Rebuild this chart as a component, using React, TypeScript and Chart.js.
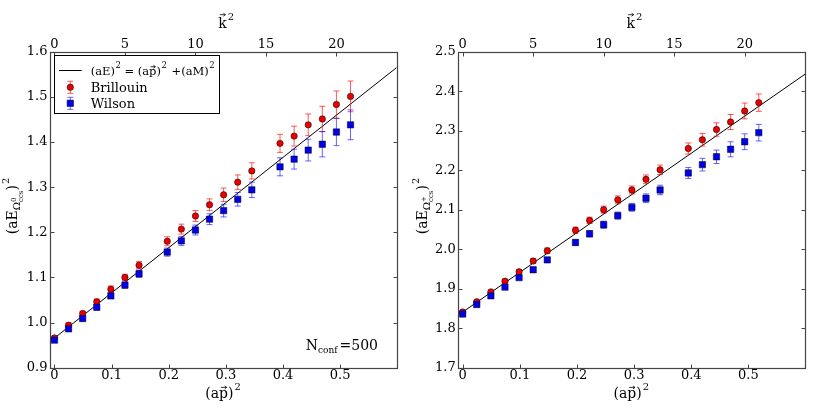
import React, { useEffect, useRef } from "react";
import { Chart, registerables } from "chart.js";

Chart.register(...registerables);

// (a p)^2 per unit of k^2, lattice L = 40
const K_UNIT = Math.pow((2 * Math.PI) / 40, 2);

const kSq = [0, 1, 2, 3, 4, 5, 6, 8, 9, 10, 11, 12, 13, 14, 16, 17, 18, 19, 20, 21];

// Left panel: Omega_ccs^0
const leftBrillouin = [0.966, 0.994, 1.02, 1.046, 1.074, 1.1, 1.127, 1.18, 1.207, 1.236, 1.261, 1.283, 1.311, 1.336, 1.397, 1.413, 1.438, 1.451, 1.483, 1.501];
const leftBrillouinErr = [0.004, 0.005, 0.005, 0.006, 0.007, 0.007, 0.008, 0.01, 0.011, 0.012, 0.013, 0.015, 0.016, 0.018, 0.02, 0.022, 0.024, 0.028, 0.03, 0.034];
const leftWilson = [0.961, 0.986, 1.009, 1.034, 1.059, 1.083, 1.108, 1.156, 1.181, 1.205, 1.229, 1.248, 1.273, 1.294, 1.345, 1.362, 1.382, 1.395, 1.422, 1.438];
const leftWilsonErr = [0.004, 0.005, 0.005, 0.006, 0.006, 0.007, 0.008, 0.009, 0.01, 0.011, 0.012, 0.014, 0.015, 0.017, 0.02, 0.022, 0.024, 0.028, 0.03, 0.033];
const leftFit = [[-0.0087, 0.957], [0.599, 1.565]];

// Right panel: Omega_ccs^+
const rightBrillouin = [1.841, 1.867, 1.892, 1.919, 1.943, 1.97, 1.996, 2.048, 2.073, 2.1, 2.125, 2.15, 2.177, 2.201, 2.255, 2.277, 2.303, 2.322, 2.35, 2.371];
const rightBrillouinErr = [0.003, 0.003, 0.004, 0.004, 0.005, 0.006, 0.007, 0.008, 0.008, 0.009, 0.01, 0.01, 0.011, 0.012, 0.014, 0.016, 0.017, 0.019, 0.02, 0.022];
const rightWilson = [1.836, 1.86, 1.882, 1.904, 1.928, 1.948, 1.973, 2.017, 2.039, 2.062, 2.085, 2.106, 2.129, 2.15, 2.193, 2.214, 2.234, 2.253, 2.272, 2.295];
const rightWilsonErr = [0.003, 0.003, 0.004, 0.004, 0.005, 0.006, 0.006, 0.007, 0.008, 0.009, 0.009, 0.01, 0.011, 0.012, 0.014, 0.016, 0.017, 0.019, 0.02, 0.021];
const rightFit = [[-0.0088, 1.832], [0.599, 2.443]];

const xTicks = [0, 0.1, 0.2, 0.3, 0.4, 0.5];
const kTicks = [0, 5, 10, 15, 20];
const leftYTicks = [0.9, 1.0, 1.1, 1.2, 1.3, 1.4, 1.5, 1.6];
const rightYTicks = [1.7, 1.8, 1.9, 2.0, 2.1, 2.2, 2.3, 2.4, 2.5];

const X_MIN = -0.0087;
const X_MAX = 0.599;

const FONT = '"DejaVu Serif", serif';
const RED = "rgb(235,0,0)";
const BLUE = "rgb(0,0,235)";
const RED_ERR = "rgba(255,0,0,0.65)";
const BLUE_ERR = "rgba(0,0,255,0.6)";
const FRAME = "#444";

Chart.defaults.font.family = FONT;

type Piece = { t: string; size: number; dy?: number; dx?: number; arrow?: number; noAdvance?: boolean };

function pieceWidth(ctx: CanvasRenderingContext2D, p: Piece) {
  ctx.font = `${p.size}px ${FONT}`;
  return ctx.measureText(p.t).width;
}

function richWidth(ctx: CanvasRenderingContext2D, pieces: Piece[]) {
  let w = 0;
  for (const p of pieces) {
    if (!p.noAdvance) w += pieceWidth(ctx, p) + (p.dx || 0);
  }
  return w;
}

function drawRich(ctx: CanvasRenderingContext2D, pieces: Piece[], x: number, y: number) {
  let cx = x;
  ctx.textAlign = "left";
  ctx.textBaseline = "alphabetic";
  for (const p of pieces) {
    const w = pieceWidth(ctx, p);
    ctx.font = `${p.size}px ${FONT}`;
    const px = cx + (p.dx || 0);
    const py = y + (p.dy || 0);
    ctx.fillText(p.t, px, py);
    if (p.arrow) {
      const ya = py - p.size * p.arrow;
      const xs = px + w * 0.2;
      const xe = px + w * 0.85;
      ctx.save();
      ctx.lineWidth = 0.8;
      ctx.strokeStyle = "#000";
      ctx.beginPath();
      ctx.moveTo(xs, ya);
      ctx.lineTo(xe, ya);
      ctx.moveTo(xe - 2, ya - 1.5);
      ctx.lineTo(xe, ya);
      ctx.lineTo(xe - 2, ya + 1.5);
      ctx.stroke();
      ctx.restore();
    }
    if (!p.noAdvance) cx += w + (p.dx || 0);
  }
}

type PanelCfg = {
  id: string;
  left: number;
  width: number;
  yAxisWidth: number;
  rightPad: number;
  yMin: number;
  yMax: number;
  yTicks: number[];
  brill: number[];
  brillErr: number[];
  wils: number[];
  wilsErr: number[];
  fit: number[][];
  supChar: string;
  showLegend: boolean;
};

const PLOT_TOP = 51.7;
const BOTTOM_H = 409 - 367.7;

function makePlugin(cfg: PanelCfg) {
  return {
    id: "custom_" + cfg.id,
    beforeDatasetDraw(chart: any, args: any) {
      const ds = chart.data.datasets[args.index];
      if (!ds.errs) return;
      const ctx = chart.ctx as CanvasRenderingContext2D;
      const ys = chart.scales.y;
      const a = chart.chartArea;
      ctx.save();
      ctx.beginPath();
      ctx.rect(a.left, a.top, a.right - a.left, a.bottom - a.top);
      ctx.clip();
      ctx.strokeStyle = ds.errColor;
      ctx.lineWidth = 1;
      args.meta.data.forEach((el: any, i: number) => {
        const x = el.x;
        const v = ds.data[i].y;
        const e = ds.errs[i];
        const y1 = ys.getPixelForValue(v + e);
        const y2 = ys.getPixelForValue(v - e);
        ctx.beginPath();
        ctx.moveTo(x, y1);
        ctx.lineTo(x, y2);
        ctx.moveTo(x - 3, y1);
        ctx.lineTo(x + 3, y1);
        ctx.moveTo(x - 3, y2);
        ctx.lineTo(x + 3, y2);
        ctx.stroke();
      });
      ctx.restore();
    },
    afterDraw(chart: any) {
      const ctx = chart.ctx as CanvasRenderingContext2D;
      const a = chart.chartArea;
      const L = Math.round(a.left) + 0.5;
      const R = Math.round(a.right) + 0.5;
      const T = Math.round(a.top) + 0.5;
      const B = Math.round(a.bottom) + 0.5;
      ctx.save();
      // frame
      ctx.strokeStyle = FRAME;
      ctx.lineWidth = 1.2;
      ctx.strokeRect(L, T, R - L, B - T);
      // inner ticks
      ctx.lineWidth = 1;
      ctx.beginPath();
      const xs = chart.scales.x;
      const x2 = chart.scales.x2;
      const ys = chart.scales.y;
      for (const v of xTicks) {
        const px = Math.round(xs.getPixelForValue(v)) + 0.5;
        ctx.moveTo(px, B);
        ctx.lineTo(px, B - 4);
      }
      for (const v of kTicks) {
        const px = Math.round(x2.getPixelForValue(v)) + 0.5;
        ctx.moveTo(px, T);
        ctx.lineTo(px, T + 4);
      }
      for (const v of cfg.yTicks) {
        const py = Math.round(ys.getPixelForValue(v)) + 0.5;
        ctx.moveTo(L, py);
        ctx.lineTo(L + 4, py);
        ctx.moveTo(R, py);
        ctx.lineTo(R - 4, py);
      }
      ctx.stroke();

      ctx.fillStyle = "#000";
      const cx = (a.left + a.right) / 2;
      // top title k^2
      const kPieces: Piece[] = [
        { t: "k", size: 14, arrow: 0.95 },
        { t: "2", size: 10, dy: -8, dx: 1 },
      ];
      drawRich(ctx, kPieces, cx + 3 - richWidth(ctx, kPieces) / 2, 28);
      // bottom title (ap)^2
      const pPieces: Piece[] = [
        { t: "(a", size: 14 },
        { t: "p", size: 14, arrow: 0.72 },
        { t: ")", size: 14 },
        { t: "2", size: 10, dy: -8, dx: 1 },
      ];
      drawRich(ctx, pPieces, cx - richWidth(ctx, pPieces) / 2, 397.5);
      // y title
      const yPieces: Piece[] = [
        { t: "(aE", size: 14 },
        { t: "Ω", size: 10, dy: 3.5 },
        { t: cfg.supChar, size: 7, dy: -1, noAdvance: true },
        { t: "ccs", size: 7, dy: 6.5 },
        { t: ")", size: 14 },
        { t: "2", size: 10, dy: -8, dx: 1 },
      ];
      ctx.save();
      ctx.translate(16.7, 206);
      ctx.rotate(-Math.PI / 2);
      drawRich(ctx, yPieces, -richWidth(ctx, yPieces) / 2, 0);
      ctx.restore();

      if (cfg.showLegend) {
        // N_conf text, right aligned at 378
        const nPieces: Piece[] = [
          { t: "N", size: 14 },
          { t: "conf", size: 9, dy: 3 },
          { t: "=500", size: 14, dx: 2 },
        ];
        drawRich(ctx, nPieces, 378 - richWidth(ctx, nPieces), 350);

        // legend
        const bx = 54.5, by = 55.5, bw = 165, bh = 58;
        ctx.fillStyle = "#fff";
        ctx.fillRect(bx, by, bw, bh);
        ctx.strokeStyle = "#000";
        ctx.lineWidth = 1;
        ctx.strokeRect(bx, by, bw, bh);
        // row 1: line
        ctx.beginPath();
        ctx.moveTo(59, 70.5);
        ctx.lineTo(81.7, 70.5);
        ctx.stroke();
        ctx.fillStyle = "#000";
        drawRich(ctx, [
          { t: "(aE)", size: 11.5 },
          { t: "2", size: 8.5, dy: -7, dx: 0.5 },
          { t: " = (a", size: 11.5 },
          { t: "p", size: 11.5, arrow: 0.72 },
          { t: ")", size: 11.5 },
          { t: "2", size: 8.5, dy: -7, dx: 0.5 },
          { t: " +(aM)", size: 11.5, dx: 1 },
          { t: "2", size: 8.5, dy: -7, dx: 0.5 },
        ], 90.7, 75);
        // row 2: Brillouin
        const mx = 70.3;
        const drawErr = (y: number, col: string) => {
          ctx.strokeStyle = col;
          ctx.lineWidth = 1;
          ctx.beginPath();
          ctx.moveTo(mx, y - 6);
          ctx.lineTo(mx, y + 6);
          ctx.moveTo(mx - 3, y - 6);
          ctx.lineTo(mx + 3, y - 6);
          ctx.moveTo(mx - 3, y + 6);
          ctx.lineTo(mx + 3, y + 6);
          ctx.stroke();
        };
        drawErr(87.3, RED_ERR);
        ctx.fillStyle = RED;
        ctx.strokeStyle = "#000";
        ctx.lineWidth = 0.5;
        ctx.beginPath();
        ctx.arc(mx, 87.3, 3.2, 0, Math.PI * 2);
        ctx.fill();
        ctx.stroke();
        drawErr(103.3, BLUE_ERR);
        ctx.fillStyle = BLUE;
        ctx.strokeStyle = "#000";
        ctx.lineWidth = 0.5;
        ctx.beginPath();
        ctx.rect(mx - 3.2, 103.3 - 3.2, 6.4, 6.4);
        ctx.fill();
        ctx.stroke();
        ctx.fillStyle = "#000";
        drawRich(ctx, [{ t: "Brillouin", size: 13 }], 90.7, 92);
        drawRich(ctx, [{ t: "Wilson", size: 13 }], 90.7, 108);
      }
      ctx.restore();
    },
  };
}

function Panel({ cfg }: { cfg: PanelCfg }) {
  const ref = useRef<HTMLCanvasElement>(null);
  useEffect(() => {
    if (!ref.current) return;
    const tickFont = { family: FONT, size: 13 };
    const chart = new Chart(ref.current, {
      type: "scatter",
      data: {
        datasets: [
          {
            type: "line",
            data: cfg.fit.map(([x, y]) => ({ x, y })),
            borderColor: "#000",
            borderWidth: 1,
            pointRadius: 0,
            fill: false,
            order: 3,
            xAxisID: "x",
            yAxisID: "y",
          } as any,
          {
            data: cfg.brill.map((y, i) => ({ x: kSq[i] * K_UNIT, y })),
            pointStyle: "circle",
            pointRadius: 3.2,
            backgroundColor: RED,
            borderColor: "#000",
            borderWidth: 0.5,
            errs: cfg.brillErr,
            errColor: RED_ERR,
            order: 2,
            xAxisID: "x",
            yAxisID: "y",
          } as any,
          {
            data: cfg.wils.map((y, i) => ({ x: kSq[i] * K_UNIT, y })),
            pointStyle: "rect",
            pointRadius: 4.5,
            backgroundColor: BLUE,
            borderColor: "#000",
            borderWidth: 0.5,
            errs: cfg.wilsErr,
            errColor: BLUE_ERR,
            order: 1,
            xAxisID: "x",
            yAxisID: "y",
          } as any,
        ],
      },
      options: {
        responsive: false,
        animation: false,
        events: [],
        layout: { padding: { left: 0, right: cfg.rightPad, top: 0, bottom: 0 } },
        plugins: { legend: { display: false }, tooltip: { enabled: false } },
        scales: {
          x: {
            type: "linear",
            position: "bottom",
            min: X_MIN,
            max: X_MAX,
            grid: { display: false, drawTicks: false },
            border: { display: false },
            afterBuildTicks: (s: any) => {
              s.ticks = xTicks.map((v) => ({ value: v }));
            },
            afterFit: (s: any) => {
              s.height = BOTTOM_H;
            },
            ticks: {
              font: tickFont,
              color: "#000",
              padding: 0,
              maxRotation: 0,
              minRotation: 0,
              autoSkip: false,
              callback: (v: any) => (Number(v) === 0 ? "0" : Number(v).toFixed(1)),
            },
          },
          x2: {
            type: "linear",
            position: "top",
            min: X_MIN / K_UNIT,
            max: X_MAX / K_UNIT,
            grid: { display: false, drawTicks: false },
            border: { display: false },
            afterBuildTicks: (s: any) => {
              s.ticks = kTicks.map((v) => ({ value: v }));
            },
            afterFit: (s: any) => {
              s.height = PLOT_TOP;
            },
            ticks: {
              font: tickFont,
              color: "#000",
              padding: -1,
              maxRotation: 0,
              minRotation: 0,
              autoSkip: false,
              callback: (v: any) => String(v),
            },
          },
          y: {
            type: "linear",
            position: "left",
            min: cfg.yMin,
            max: cfg.yMax,
            grid: { display: false, drawTicks: false },
            border: { display: false },
            afterBuildTicks: (s: any) => {
              s.ticks = cfg.yTicks.map((v) => ({ value: v }));
            },
            afterFit: (s: any) => {
              s.width = cfg.yAxisWidth;
            },
            ticks: {
              font: tickFont,
              color: "#000",
              padding: 2,
              autoSkip: false,
              callback: (v: any) => Number(v).toFixed(1),
            },
          },
        },
      } as any,
      plugins: [makePlugin(cfg)],
    });
    return () => chart.destroy();
  }, [cfg]);
  return (
    <canvas
      ref={ref}
      width={cfg.width}
      height={409}
      style={{ position: "absolute", left: cfg.left, top: 0, width: cfg.width, height: 409 }}
    />
  );
}

const leftCfg: PanelCfg = {
  id: "left",
  left: 0,
  width: 410,
  yAxisWidth: 49.5,
  rightPad: 410 - 396.7,
  yMin: 0.9,
  yMax: 1.6,
  yTicks: leftYTicks,
  brill: leftBrillouin,
  brillErr: leftBrillouinErr,
  wils: leftWilson,
  wilsErr: leftWilsonErr,
  fit: leftFit,
  supChar: "0",
  showLegend: true,
};

const rightCfg: PanelCfg = {
  id: "right",
  left: 410,
  width: 407,
  yAxisWidth: 47.7,
  rightPad: 407 - 395,
  yMin: 1.7,
  yMax: 2.5,
  yTicks: rightYTicks,
  brill: rightBrillouin,
  brillErr: rightBrillouinErr,
  wils: rightWilson,
  wilsErr: rightWilsonErr,
  fit: rightFit,
  supChar: "+",
  showLegend: false,
};

export default function App() {
  return (
    <div style={{ position: "fixed", left: 0, top: 0, width: 817, height: 409, background: "#fff" }}>
      <Panel cfg={leftCfg} />
      <Panel cfg={rightCfg} />
    </div>
  );
}
